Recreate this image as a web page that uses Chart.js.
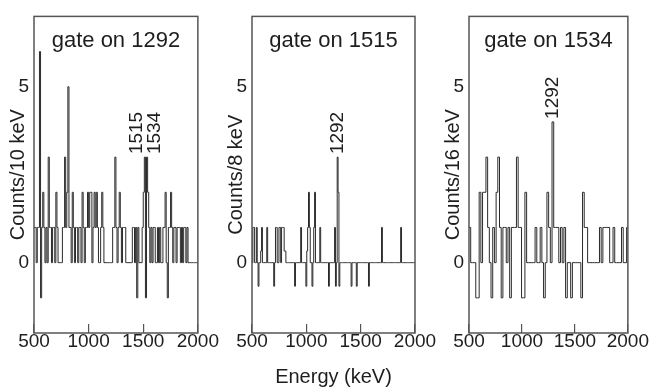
<!DOCTYPE html>
<html>
<head>
<meta charset="utf-8">
<script src="https://cdn.jsdelivr.net/npm/chart.js@4.4.1/dist/chart.umd.min.js"></script>
<style>
  body { margin: 0; background: #fff; }
  #wrap { position: relative; width: 655px; height: 390px; overflow: hidden; }
  #wrap canvas { position: absolute; top: 0; }
</style>
</head>
<body>
<div id="wrap">
  <canvas id="gate1292" width="225" height="390" style="left:0px"></canvas>
  <canvas id="gate1515" width="225" height="390" style="left:218px"></canvas>
  <canvas id="gate1534" width="220" height="390" style="left:435px"></canvas>
</div>
<script>
// spectra start at 500 keV, one value per bin
const energyStart = 500;
const energyTicks = [500, 1000, 1500, 2000];
const countTicks = [0, 5];

// gate on 1292, 10 keV bins
const gate1292Counts = [
  1, 1, 0, 1, 1, 6, -1, 1, 2, 1,
  0, 1, 0, 3, 1, 1, 0, 1, 1, 0,
  2, 1, 0, 0, 0, 0, 1, 1, 3, 1,
  2, 5, 1, 1, 0, 2, 1, 0, 1, 1,
  0, 1, 1, 0, 2, 1, 0, 1, 1, 2,
  1, 2, 2, 0, 1, 2, 1, 2, 1, 0,
  0, 1, 2, 1, 0, 0, 0, 0, 0, 0,
  0, 0, 1, 1, 3, 1, 0, 1, 2, 1,
  0, 1, 1, 1, 0, 0, 0, 0, 0, 0,
  1, 1, 0, 1, -1, 1, 0, 0, 0, 1,
  2, 3, -1, 3, 2, 1, 0, 1, 0, 1,
  1, 0, 0, 1, 0, 1, 0, 0, 1, 1,
  2, 0, -1, 1, 1, 2, 1, 0, 1, 1,
  0, 1, 1, 1, 0, 1, 0, 1, 1, 0,
  1, 0, 0, 0, 0, 0, 0, 0, 0, 0
];
const gate1292Peaks = [1515, 1534];
const gate1292PeakCounts = [3, 3];

// gate on 1515, 8 keV bins
const gate1515Counts = [
  0, 1, 1, 0, 0, 1, 0, -0.67, 0, 0, 0.33, 1, 0, 0, 0, 0, 0, 1, 0, 0,
  0, 0, 0, 0, 0, -0.67, 0, 1, 1, 0, 0, 1, 1, 0, 1, 1, 1, 0.33, 0.33, 0,
  0, 0, 0, 0, 0, 0, 0, 0, 0, -0.67, 0, 0, 0, 0, 0, 0, 1, 0, 0, 0,
  0, 0, -0.67, 0.33, 1, 2, 1, 0, 0, -0.67, 0, 1, 2, 0, 0, 0, 0, 0, 1, 0,
  0, 0, 0, 0, 0, 0, 0, 0, -0.67, 0, 0, 0, 0, 0, 0, 1, -0.67, 0, 3, 2,
  -0.67, 0, 0, 0, 0, 0, 0, 0, 0, 0, 0, 0, 0, 0, -0.67, 0, 0, 0, 0, 0,
  -0.67, 0, 0, 0, 0, 0, 0, 0, 0, 0, 0, 0, 0, 0, -0.67, 0, 0, 0, 0, 0,
  0, 0, 0, 0, 0, 0, 0, 0, 0, 1, 0, 0, 0, 0, 0, 0, 0, 0, 0, 0,
  0, 0, 0, 0, 0, 0, 0, 0, 0, 0, 0, 1, 0, 0, 0, 0, 0, 0, 0, 0,
  0, 0, 0, 0, 0, 0, 0, 0
];
const gate1515Peaks = [1292];
const gate1515PeakCounts = [3];

// gate on 1534, 16 keV bins
const gate1534Counts = [
  1, 0, 0, 0, -1, -1, 2, 0, 2, 2,
  3, 1, 0, -1, 1, 0, 2, 3, 1, -1,
  1, 1, 0, 1, -1, 1, 1, 1, 3, 1,
  1, -1, -1, 2, 0, 0, 0, 0, 0, 1,
  0, 0, 1, 0, -1, 0, 2, 1, 0, 4,
  1, 1, 1, 0, 1, 0, 1, -1, 0, 0,
  -1, 0, 0, 0, 0, 0, -1, 2, 1, 1,
  0, 0, 0, 0, 0, 0, 0, 1, 0, 1,
  1, 1, 1, 0, 0, 1, 0, 0, 0, 0,
  1, 0, 0, 1
];
const gate1534Peaks = [1292];
const gate1534PeakCounts = [4];

Chart.defaults.font.family = '"Liberation Sans", Arial, sans-serif';
Chart.defaults.color = '#1e1e1e';

// frame, gate title and rotated peak energies
const panelDecor = {
  id: 'panelDecor',
  afterDatasetsDraw(chart, args, o) {
    const { ctx, chartArea: a, scales: { x, y } } = chart;
    ctx.save();
    ctx.strokeStyle = '#555';
    ctx.lineWidth = 1.5;
    ctx.strokeRect(a.left, a.top, a.right - a.left, a.bottom - a.top);

    ctx.fillStyle = '#1e1e1e';
    ctx.font = '22px "Liberation Sans", Arial, sans-serif';
    ctx.textAlign = 'center';
    ctx.textBaseline = 'alphabetic';
    ctx.fillText(o.gate, (a.left + a.right) / 2, a.top + 31);

    ctx.font = '19px "Liberation Sans", Arial, sans-serif';
    ctx.textAlign = 'left';
    ctx.textBaseline = 'middle';
    const n = o.peaks.length;
    o.peaks.forEach((e, i) => {
      const spread = (i - (n - 1) / 2) * 16;
      ctx.save();
      ctx.translate(x.getPixelForValue(e) + spread, y.getPixelForValue(o.peakCounts[i]) - 3);
      ctx.rotate(-Math.PI / 2);
      ctx.fillText(String(e), 0, 0);
      ctx.restore();
    });
    ctx.restore();
  }
};

function buildPanel(id, counts, binWidth, gate, yLabel, peaks, peakCounts, padRight, xLabel) {
  const points = counts.map((c, i) => ({ x: energyStart + i * binWidth, y: c }));
  points.push({ x: energyStart + counts.length * binWidth, y: counts[counts.length - 1] });

  new Chart(document.getElementById(id), {
    type: 'line',
    data: {
      datasets: [{
        data: points,
        stepped: true,
        borderColor: '#2a2a2a',
        borderWidth: 1,
        pointRadius: 0,
        fill: false
      }]
    },
    options: {
      responsive: false,
      animation: false,
      events: [],
      layout: { padding: { top: 7, right: padRight, bottom: 0, left: 0 } },
      plugins: {
        legend: { display: false },
        tooltip: { enabled: false },
        panelDecor: { gate: gate, peaks: peaks, peakCounts: peakCounts }
      },
      scales: {
        x: {
          type: 'linear',
          min: 500,
          max: 2000,
          afterBuildTicks: s => { s.ticks = energyTicks.map(v => ({ value: v })); },
          afterFit: s => { s.height = 57; },
          border: { display: false },
          grid: { drawOnChartArea: false, drawTicks: true, tickLength: -9, color: '#555', lineWidth: 1.2 },
          ticks: { padding: 6, font: { size: 19 }, maxRotation: 0, autoSkip: false, callback: v => String(v) },
          title: {
            display: !!xLabel,
            text: xLabel || '',
            font: { size: 20 },
            padding: { top: 0, bottom: 1 }
          }
        },
        y: {
          min: -2,
          max: 7,
          afterBuildTicks: s => { s.ticks = countTicks.map(v => ({ value: v })); },
          afterFit: s => { s.width = 34; },
          border: { display: false },
          grid: { display: false, drawTicks: false },
          ticks: { padding: 5, font: { size: 19 }, callback: v => String(v) },
          title: {
            display: true,
            text: yLabel,
            font: { size: 20 },
            padding: { top: 6, bottom: 0 }
          }
        }
      }
    },
    plugins: [panelDecor]
  });
}

buildPanel('gate1292', gate1292Counts, 10, 'gate on 1292', 'Counts/10 keV', gate1292Peaks, gate1292PeakCounts, 27);
buildPanel('gate1515', gate1515Counts, 8, 'gate on 1515', 'Counts/8 keV', gate1515Peaks, gate1515PeakCounts, 28, 'Energy (keV)');
buildPanel('gate1534', gate1534Counts, 16, 'gate on 1534', 'Counts/16 keV', gate1534Peaks, gate1534PeakCounts, 23);
</script>
</body>
</html>
